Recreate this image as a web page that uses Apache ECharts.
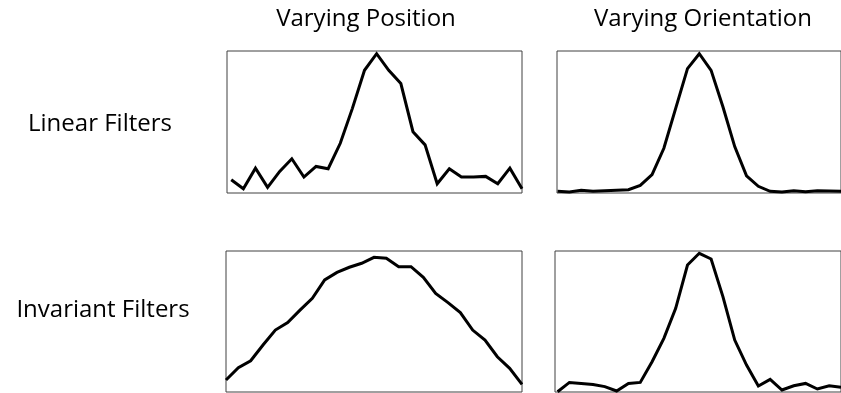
<!DOCTYPE html>
<html>
<head>
<meta charset="utf-8">
<script src="https://cdn.jsdelivr.net/npm/echarts@6/dist/echarts.min.js"></script>
<style>
  html, body { margin: 0; padding: 0; background: #fff; }
  #chart { width: 841px; height: 393px; }
</style>
</head>
<body>
<div id="chart"></div>
<script>
// Column and row labels
const colLabels = ['Varying Position', 'Varying Orientation'];
const rowLabels = ['Linear Filters', 'Invariant Filters'];

// Responses (normalised 0-100), 25 samples each
const linearPosition = [9.3, 3.0, 17.5, 4.0, 15.2, 24.1, 11.2, 18.7, 17.1, 35.0, 59.6, 86.4, 98.1, 86.4, 77.1, 43.2, 33.9, 6.5, 17.1, 11.2, 11.2, 11.7, 6.5, 17.5, 3.0];
const linearOrientation = [1.2, 0.7, 1.9, 1.2, 1.6, 1.9, 2.3, 5.4, 12.9, 31.5, 59.6, 87.6, 98.1, 86.4, 60.7, 32.7, 12.1, 4.7, 1.2, 0.7, 1.6, 0.9, 1.6, 1.4, 1.2];
const invariantPosition = [9.6, 18.2, 23.1, 34.1, 44.6, 49.8, 58.6, 66.8, 79.7, 85.0, 88.6, 91.4, 95.6, 94.9, 89.0, 89.0, 81.5, 70.3, 63.8, 56.8, 44.6, 37.6, 25.9, 17.8, 6.5];
const invariantOrientation = [1.4, 7.9, 7.2, 6.5, 5.0, 1.9, 7.2, 7.9, 22.4, 38.8, 59.8, 90.2, 98.4, 94.4, 68.0, 37.6, 20.1, 5.4, 10.0, 2.6, 5.6, 7.2, 3.3, 5.6, 4.5];

const panels = [
  { data: linearPosition,       grid: { left: 227, top: 51,  width: 295, height: 142 }, xMin: -0.35, yMin: 0 },
  { data: linearOrientation,    grid: { left: 557, top: 51,  width: 295, height: 142 }, xMin: -0.05, yMin: 0 },
  { data: invariantPosition,    grid: { left: 226, top: 251, width: 296, height: 141 }, xMin: 0,     yMin: 1.2 },
  { data: invariantOrientation, grid: { left: 555, top: 251, width: 296, height: 141 }, xMin: -0.22, yMin: 1.2 }
];

const font = '"Open Sans", "Noto Sans", sans-serif';
const textStyle = (text, x, y) => ({
  type: 'text', x: x, y: y,
  style: { text: text, fill: '#000', font: '24px ' + font, align: 'center', verticalAlign: 'middle' }
});

const option = {
  animation: false,
  backgroundColor: '#fff',
  grid: panels.map(p => Object.assign({ show: true, borderColor: '#404040', borderWidth: 1, backgroundColor: 'transparent' }, p.grid)),
  xAxis: panels.map((p, i) => ({ type: 'value', gridIndex: i, min: p.xMin, max: 24, show: false })),
  yAxis: panels.map((p, i) => ({ type: 'value', gridIndex: i, min: p.yMin, max: 100, show: false })),
  series: panels.map((p, i) => ({
    type: 'line', xAxisIndex: i, yAxisIndex: i,
    symbol: 'none', clip: false,
    lineStyle: { color: '#000', width: 3, join: 'miter' },
    data: p.data.map((v, k) => [k, v])
  })),
  graphic: [
    textStyle(colLabels[0], 366, 19),
    textStyle(colLabels[1], 703, 19),
    textStyle(rowLabels[0], 100, 124),
    textStyle(rowLabels[1], 103, 310)
  ]
};

const chart = echarts.init(document.getElementById('chart'), null, { renderer: 'canvas' });
chart.setOption(option);
</script>
</body>
</html>
